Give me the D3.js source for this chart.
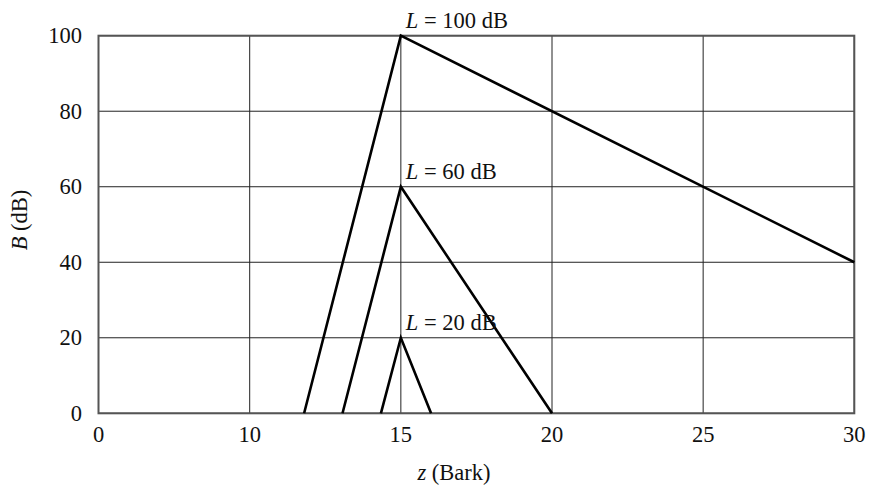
<!DOCTYPE html>
<html>
<head>
<meta charset="utf-8">
<script src="https://cdn.jsdelivr.net/npm/d3@7"></script>
<style>
  body { margin: 0; background: #fff; }
  text { font-family: "Liberation Serif", "DejaVu Serif", serif; fill: #111; }
</style>
</head>
<body>
<svg id="chart"></svg>
<script>
// spreading curves, z in Bark, B in dB
var xTicks = [0, 10, 15, 20, 25, 30],
    yTicks = [0, 20, 40, 60, 80, 100];

var curve100 = [[11.8, 0], [15, 100], [30, 40]],
    curve60 = [[13.07, 0], [15, 60], [20, 0]],
    curve20 = [[14.34, 0], [15, 20], [16, 0]];

var labels = ["100", "60", "20"];
var peaks = [100, 60, 20];

var W = 871, H = 485, fs = 22.5;
var svg = d3.select("#chart").attr("width", W).attr("height", H);

// axis is broken: 0-10 gets the same width as 10-15
var x = d3.scaleLinear().domain([0, 10, 30]).range([98.5, 249.7, 854.3]);
var y = d3.scaleLinear().domain([0, 100]).range([413.3, 35.7]);

var g = svg.append("g");

// grid
g.selectAll(".vgrid")
    .data(xTicks)
    .enter()
    .append("line")
    .attr("x1", function(d) { return x(d); })
    .attr("x2", function(d) { return x(d); })
    .attr("y1", y(0))
    .attr("y2", y(100))
    .attr("stroke", "#222")
    .attr("stroke-width", 1);

g.selectAll(".hgrid")
    .data(yTicks)
    .enter()
    .append("line")
    .attr("x1", x(0))
    .attr("x2", x(30))
    .attr("y1", function(d) { return y(d); })
    .attr("y2", function(d) { return y(d); })
    .attr("stroke", "#222")
    .attr("stroke-width", 1);

// frame
g.append("rect")
    .attr("x", x(0))
    .attr("y", y(100))
    .attr("width", x(30) - x(0))
    .attr("height", y(0) - y(100))
    .attr("fill", "none")
    .attr("stroke", "#555")
    .attr("stroke-width", 2);

// tick labels
g.selectAll(".xlab")
    .data(xTicks)
    .enter()
    .append("text")
    .attr("x", function(d) { return x(d); })
    .attr("y", 442)
    .attr("text-anchor", "middle")
    .attr("font-size", fs)
    .text(function(d) { return d; });

g.selectAll(".ylab")
    .data(yTicks)
    .enter()
    .append("text")
    .attr("x", 82)
    .attr("y", function(d) { return y(d) + 7.5; })
    .attr("text-anchor", "end")
    .attr("font-size", fs)
    .text(function(d) { return d; });

// axis titles
var xt = g.append("text")
    .attr("x", 454)
    .attr("y", 480)
    .attr("text-anchor", "middle")
    .attr("font-size", fs);
xt.append("tspan").attr("font-style", "italic").text("z");
xt.append("tspan").text(" (Bark)");

var yt = g.append("text")
    .attr("transform", "translate(27,220) rotate(-90)")
    .attr("text-anchor", "middle")
    .attr("font-size", fs);
yt.append("tspan").attr("font-style", "italic").text("B");
yt.append("tspan").text(" (dB)");

// curves
var line = d3.line()
    .x(function(d) { return x(d[0]); })
    .y(function(d) { return y(d[1]); });

g.selectAll(".curve")
    .data([curve100, curve60, curve20])
    .enter()
    .append("path")
    .attr("d", line)
    .attr("fill", "none")
    .attr("stroke", "#000")
    .attr("stroke-width", 2.6)
    .attr("stroke-linejoin", "miter");

// level labels
labels.forEach(function(l, i) {
    var t = g.append("text")
        .attr("x", x(15) + 5)
        .attr("y", y(peaks[i]) - 8)
        .attr("font-size", fs);
    t.append("tspan").attr("font-style", "italic").text("L");
    t.append("tspan").text(" = " + l + " dB");
});
</script>
</body>
</html>
